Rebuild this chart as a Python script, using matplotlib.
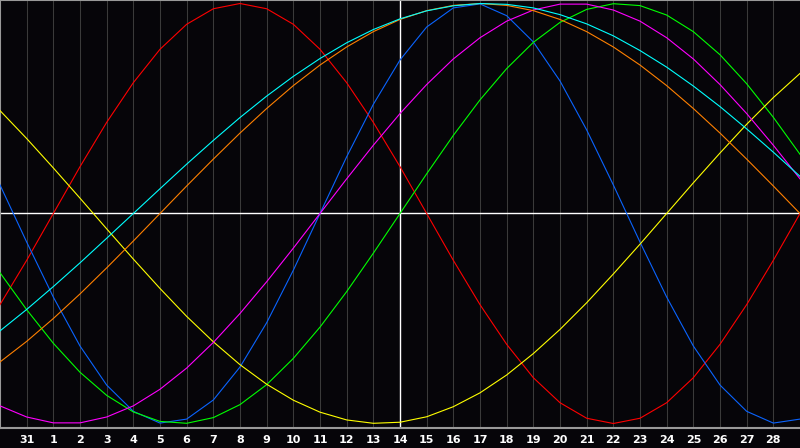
import matplotlib
matplotlib.use("Agg")
import matplotlib.pyplot as plt

# day index 0..30 across the chart, one value per day
days = list(range(31))
day_labels = ["31"] + [str(d) for d in range(1, 29)]
today_idx = 15

# cycle values (-1 .. 1)
red = [-0.434, -0.223, 0, 0.223, 0.434, 0.623, 0.782, 0.901, 0.975, 1, 0.975,
       0.901, 0.782, 0.623, 0.434, 0.223, 0, -0.223, -0.434, -0.623, -0.782,
       -0.901, -0.975, -1, -0.975, -0.901, -0.782, -0.623, -0.434, -0.223, 0]
blue = [0.136, -0.136, -0.398, -0.631, -0.817, -0.942, -0.998, -0.979, -0.888,
        -0.731, -0.520, -0.270, 0, 0.270, 0.520, 0.731, 0.888, 0.979, 0.998,
        0.942, 0.817, 0.631, 0.398, 0.136, -0.136, -0.398, -0.631, -0.817,
        -0.942, -0.998, -0.979]
green = [-0.282, -0.458, -0.618, -0.756, -0.866, -0.945, -0.990, -0.999, -0.972,
         -0.910, -0.815, -0.690, -0.541, -0.372, -0.189, 0, 0.189, 0.372, 0.541,
         0.690, 0.815, 0.910, 0.972, 0.999, 0.990, 0.945, 0.866, 0.756, 0.618,
         0.458, 0.282]
yellow = [0.490, 0.357, 0.217, 0.073, -0.073, -0.217, -0.357, -0.490, -0.611,
          -0.720, -0.813, -0.889, -0.946, -0.983, -0.999, -0.994, -0.968, -0.920,
          -0.854, -0.769, -0.667, -0.552, -0.425, -0.288, -0.146, 0, 0.146,
          0.288, 0.425, 0.552, 0.667]
magenta = [-0.916, -0.969, -0.997, -0.997, -0.969, -0.916, -0.837, -0.736,
           -0.614, -0.476, -0.325, -0.165, 0, 0.165, 0.325, 0.476, 0.614, 0.736,
           0.837, 0.916, 0.969, 0.997, 0.997, 0.969, 0.916, 0.837, 0.736, 0.614,
           0.476, 0.325, 0.165]
orange = [-0.707, -0.609, -0.5, -0.383, -0.259, -0.131, 0, 0.131, 0.259, 0.383,
          0.5, 0.609, 0.707, 0.793, 0.866, 0.924, 0.966, 0.991, 1, 0.991, 0.966,
          0.924, 0.866, 0.793, 0.707, 0.609, 0.5, 0.383, 0.259, 0.131, 0]
cyan = [-0.559, -0.457, -0.348, -0.235, -0.118, 0, 0.118, 0.235, 0.348, 0.457,
        0.559, 0.653, 0.738, 0.813, 0.876, 0.927, 0.965, 0.989, 1.0, 0.996,
        0.979, 0.947, 0.903, 0.846, 0.776, 0.697, 0.607, 0.509, 0.403, 0.292,
        0.177]

bg = "#060509"
fig = plt.figure(figsize=(8, 4.48), dpi=100, facecolor=bg)
ax = fig.add_axes([0, 20 / 448, 1, 428 / 448], facecolor=bg)

# grid
for k in range(1, 30):
    if k != today_idx:
        ax.axvline(k, color="#3a3a3a", lw=0.75, zorder=1)
ax.axhline(0, color="white", lw=1.0, zorder=2)
ax.axvline(today_idx, color="white", lw=1.0, zorder=2)

series = [(red, "#ff0000"), (blue, "#0a64ff"), (green, "#00ff00"),
          (yellow, "#ffff00"), (magenta, "#ff00ff"), (orange, "#ff8000"),
          (cyan, "#00ffff")]
for vals, col in series:
    ax.plot(days, vals, color=col, lw=0.8, zorder=3)

ax.set_xlim(0, 30)
ax.set_ylim(-214.5 / 210, 213.5 / 210)

ax.set_xticks(range(1, 30))
ax.set_xticklabels(day_labels, color="white", fontsize=8, fontweight="bold",
                   family="DejaVu Sans")
ax.tick_params(axis="x", length=0, pad=5)
ax.set_yticks([])

for side in ["top", "left", "bottom"]:
    ax.spines[side].set_color("#999999")
    ax.spines[side].set_linewidth(1.5)
ax.spines["right"].set_visible(False)

fig.savefig("out.png", dpi=100, facecolor=bg)
